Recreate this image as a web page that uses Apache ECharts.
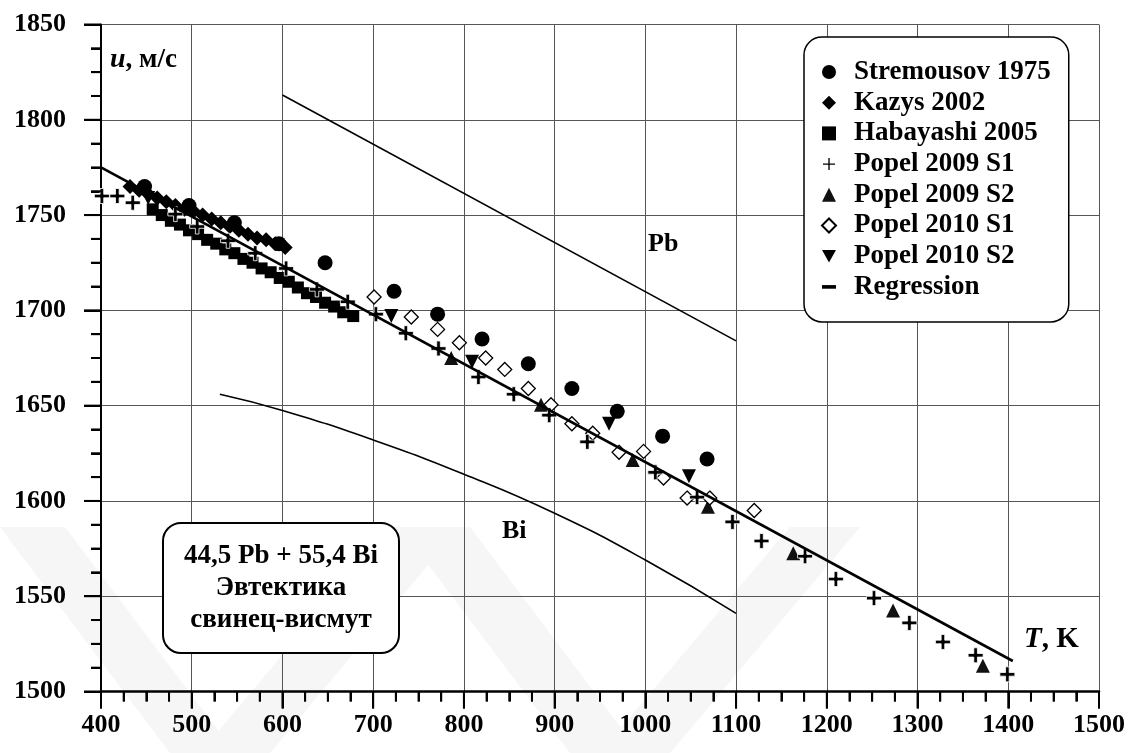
<!DOCTYPE html>
<html>
<head>
<meta charset="utf-8">
<script src="https://cdn.jsdelivr.net/npm/echarts@6/dist/echarts.min.js"></script>
<style>
  html, body { margin: 0; padding: 0; background: #fff; }
  #chart { width: 1128px; height: 753px; }
</style>
</head>
<body>
<div id="chart"></div>
<script>
// оси
var xTicks = [400, 500, 600, 700, 800, 900, 1000, 1100, 1200, 1300, 1400, 1500];
var yTicks = [1500, 1550, 1600, 1650, 1700, 1750, 1800, 1850];

// Stremousov 1975
var stremT = [448, 497, 547, 596, 647, 723, 771, 820, 871, 919, 969, 1019, 1068];
var stremU = [1765, 1755, 1746, 1735, 1725, 1710, 1698, 1685, 1672, 1659, 1647, 1634, 1622];

// Kazys 2002
var kazysT = [432, 442, 452, 462, 472, 482, 492, 502, 512, 522, 532, 542, 552, 562, 572, 582, 592, 603];
var kazysU = [1765, 1763, 1761, 1759, 1757, 1755, 1753, 1752, 1750, 1748, 1746, 1744, 1742, 1740, 1738, 1737, 1735, 1733];

// Habayashi 2005
var habT = [457, 467, 477, 487, 497, 507, 517, 527, 537, 547, 557, 567, 577, 587, 597, 607, 617, 627, 637, 647, 657, 667, 678];
var habU = [1753, 1750, 1747, 1745, 1742, 1740, 1737, 1735, 1732, 1730, 1727, 1725, 1722, 1720, 1717, 1715, 1712, 1709, 1707, 1704, 1702, 1699, 1697];

// Popel 2009 S1
var p09s1T = [401, 418, 435, 482, 506, 540, 570, 604, 638, 672, 703, 736, 772, 816, 855, 894, 936, 1011, 1057, 1096, 1128, 1176, 1210, 1252, 1291, 1328, 1364, 1399];
var p09s1U = [1760, 1760, 1756.5, 1750.5, 1744, 1736.5, 1730, 1722, 1711, 1704.5, 1698, 1688, 1680, 1665, 1656, 1645, 1631, 1615, 1602, 1589, 1579, 1571, 1559, 1549, 1536, 1526, 1519, 1509];

// Popel 2009 S2
var p09s2T = [786, 885, 986, 1069, 1163, 1273, 1372];
var p09s2U = [1675, 1650.5, 1621.5, 1597, 1572.5, 1542.5, 1513.5];

// Popel 2010 S1
var p10s1T = [701, 742, 771, 795, 824, 845, 871, 896, 919, 942, 971, 998, 1020, 1046, 1071, 1120];
var p10s1U = [1707, 1696.5, 1690, 1683, 1675, 1669, 1659, 1650.5, 1640.5, 1635.5, 1625.5, 1626, 1612, 1601.5, 1601.5, 1595];

// Popel 2010 S2
var p10s2T = [452, 720, 809, 960, 1048];
var p10s2U = [1759, 1697, 1673, 1640.5, 1613];

// регрессия и чистые металлы
var regT = [400, 1405];
var regU = [1775, 1516];
var pbT = [600, 1100];
var pbU = [1813, 1684];
var biT = [531, 600, 700, 800, 900, 1000, 1100];
var biU = [1656, 1647.5, 1632, 1614, 1593.5, 1569, 1541];

function pairs(xs, ys) {
    var out = [];
    for (var i = 0; i < xs.length; i++) {
        out.push([xs[i], ys[i]]);
    }
    return out;
}

// мелкие деления: 4 интервала между подписями
function subTicks(ticks) {
    var out = [];
    for (var i = 0; i < ticks.length; i++) {
        out.push(ticks[i]);
        if (i < ticks.length - 1) {
            var step = (ticks[i + 1] - ticks[i]) / 4;
            for (var k = 1; k < 4; k++) out.push(ticks[i] + k * step);
        }
    }
    return out;
}

var FONT = 'Liberation Serif';
var plusPath = 'path://M3.8,0h2.4v3.8h3.8v2.4h-3.8v3.8h-2.4v-3.8h-3.8v-2.4h3.8z';
var downTri = 'path://M0,0L10,0L5,9Z';
var dashIcon = 'path://M0,0h10v2.6h-10z';

var myChart = echarts.init(document.getElementById('chart'));

var option = {
    backgroundColor: '#fff',
    animation: false,
    grid: { left: 101, right: 24, top: 24.5, bottom: 61.5 },
    xAxis: {
        type: 'value',
        min: xTicks[0],
        max: xTicks[xTicks.length - 1],
        interval: 100,
        axisLine: { show: true, lineStyle: { color: '#000', width: 2.5 } },
        axisTick: { show: true, length: 17, lineStyle: { color: '#000', width: 2 } },
        minorTick: { show: true, splitNumber: 4, length: 10, lineStyle: { color: '#000', width: 2 } },
        axisLabel: {
            margin: 21, color: '#000', fontFamily: FONT, fontWeight: 'bold', fontSize: 26,
            formatter: function (v) { return String(v); }
        },
        splitLine: { show: true, lineStyle: { color: '#555', width: 1 } }
    },
    yAxis: {
        type: 'value',
        min: yTicks[0],
        max: yTicks[yTicks.length - 1],
        interval: 50,
        axisLine: { show: true, lineStyle: { color: '#000', width: 2 } },
        axisTick: { show: true, length: 17, lineStyle: { color: '#000', width: 2 } },
        minorTick: { show: true, splitNumber: 4, length: 10, lineStyle: { color: '#000', width: 2 } },
        axisLabel: {
            margin: 35, color: '#000', fontFamily: FONT, fontWeight: 'bold', fontSize: 26,
            formatter: function (v) { return String(v); }
        },
        splitLine: { show: true, lineStyle: { color: '#555', width: 1 } }
    },
    legend: {
        orient: 'vertical',
        left: 804,
        top: 37,
        padding: [21, 18, 21, 17],
        itemWidth: 14,
        itemHeight: 14,
        itemGap: 2.7,
        backgroundColor: '#fff',
        borderColor: '#000',
        borderWidth: 1.5,
        borderRadius: 18,
        textStyle: { color: '#000', fontFamily: FONT, fontWeight: 'bold', fontSize: 27, lineHeight: 28, padding: [0, 0, 0, 13] },
        data: [
            'Stremousov 1975', 'Kazys 2002', 'Habayashi 2005', 'Popel 2009 S1',
            'Popel 2009 S2', 'Popel 2010 S1', 'Popel 2010 S2',
            { name: 'Regression', icon: dashIcon }
        ]
    },
    graphic: [
        // водяной знак
        { type: 'polygon', z: -10, silent: true, shape: { points: [[0, 527], [65, 527], [235, 753], [170, 753]] }, style: { fill: '#f6f6f6' } },
        { type: 'polygon', z: -10, silent: true, shape: { points: [[200, 753], [270, 753], [460, 527], [390, 527]] }, style: { fill: '#f6f6f6' } },
        { type: 'polygon', z: -10, silent: true, shape: { points: [[400, 527], [470, 527], [640, 753], [570, 753]] }, style: { fill: '#f6f6f6' } },
        { type: 'polygon', z: -10, silent: true, shape: { points: [[600, 753], [670, 753], [860, 527], [790, 527]] }, style: { fill: '#f6f6f6' } },
        // подписи осей
        {
            type: 'text', left: 110, top: 46, z: 50,
            style: {
                text: '{i|u}{b|, м/с}',
                rich: {
                    i: { fontFamily: FONT, fontWeight: 'bold', fontStyle: 'italic', fontSize: 28, fill: '#000' },
                    b: { fontFamily: FONT, fontWeight: 'bold', fontSize: 27, fill: '#000' }
                }
            }
        },
        {
            type: 'text', left: 1024, top: 625, z: 50,
            style: {
                text: '{i|T}{b|, K}',
                rich: {
                    i: { fontFamily: FONT, fontWeight: 'bold', fontStyle: 'italic', fontSize: 29, fill: '#000' },
                    b: { fontFamily: FONT, fontWeight: 'bold', fontSize: 29, fill: '#000' }
                }
            }
        },
        { type: 'text', left: 648, top: 231, z: 50, style: { text: 'Pb', fontFamily: FONT, fontWeight: 'bold', fontSize: 26, fill: '#000' } },
        { type: 'text', left: 502, top: 518, z: 50, style: { text: 'Bi', fontFamily: FONT, fontWeight: 'bold', fontSize: 26, fill: '#000' } },
        // рамка с составом
        {
            type: 'rect', z: 50,
            shape: { x: 163, y: 523, width: 236, height: 130, r: 18 },
            style: { fill: '#fff', stroke: '#000', lineWidth: 2 }
        },
        {
            type: 'text', z: 51, x: 281, y: 588,
            style: {
                text: '44,5 Pb + 55,4 Bi\nЭвтектика\nсвинец-висмут',
                align: 'center', verticalAlign: 'middle',
                fontFamily: FONT, fontWeight: 'bold', fontSize: 27, lineHeight: 32, fill: '#000'
            }
        }
    ],
    series: [
        {
            name: 'Pb', type: 'line', data: pairs(pbT, pbU), showSymbol: false, symbol: 'none',
            lineStyle: { color: '#000', width: 1.6 }, z: 3
        },
        {
            name: 'Bi', type: 'line', data: pairs(biT, biU), smooth: true, showSymbol: false, symbol: 'none',
            lineStyle: { color: '#000', width: 1.6 }, z: 3
        },
        {
            name: 'Stremousov 1975', type: 'scatter', data: pairs(stremT, stremU),
            symbol: 'circle', symbolSize: 15, itemStyle: { color: '#000', opacity: 1 }, z: 4
        },
        {
            name: 'Kazys 2002', type: 'scatter', data: pairs(kazysT, kazysU),
            symbol: 'diamond', symbolSize: 15, itemStyle: { color: '#000', opacity: 1 }, z: 5
        },
        {
            name: 'Habayashi 2005', type: 'scatter', data: pairs(habT, habU),
            symbol: 'rect', symbolSize: 12, itemStyle: { color: '#000', opacity: 1 }, z: 5
        },
        {
            name: 'Popel 2009 S1', type: 'scatter', data: pairs(p09s1T, p09s1U),
            symbol: plusPath, symbolSize: 15,
            itemStyle: { color: '#000', borderColor: '#fff', borderWidth: 0.8, opacity: 1 }, z: 7
        },
        {
            name: 'Popel 2009 S2', type: 'scatter', data: pairs(p09s2T, p09s2U),
            symbol: 'triangle', symbolSize: 14, itemStyle: { color: '#111', opacity: 1 }, z: 6
        },
        {
            name: 'Popel 2010 S1', type: 'scatter', data: pairs(p10s1T, p10s1U),
            symbol: 'diamond', symbolSize: 14,
            itemStyle: { color: '#fff', borderColor: '#000', borderWidth: 1.3, opacity: 1 }, z: 6
        },
        {
            name: 'Popel 2010 S2', type: 'scatter', data: pairs(p10s2T, p10s2U),
            symbol: downTri, symbolSize: 14, itemStyle: { color: '#000', opacity: 1 }, z: 6
        },
        {
            name: 'Regression', type: 'line', data: pairs(regT, regU), showSymbol: false, symbol: 'none',
            lineStyle: { color: '#000', width: 2.6 }, itemStyle: { color: '#000' }, z: 8
        }
    ]
};

myChart.setOption(option);

// деления поверх всего: позиции берём из шкал самого графика
subTicks(xTicks).forEach(function (t) {
    var p = myChart.convertToPixel({ gridIndex: 0 }, [t, yTicks[0]]);
    var len = xTicks.indexOf(t) >= 0 ? 17 : 10;
    option.graphic.push({
        type: 'line', z: 100, silent: true,
        shape: { x1: p[0], y1: p[1], x2: p[0], y2: p[1] + len },
        style: { stroke: '#000', lineWidth: 2 }
    });
});
subTicks(yTicks).forEach(function (u) {
    var p = myChart.convertToPixel({ gridIndex: 0 }, [xTicks[0], u]);
    var len = yTicks.indexOf(u) >= 0 ? 17 : 10;
    option.graphic.push({
        type: 'line', z: 100, silent: true,
        shape: { x1: p[0] - len, y1: p[1], x2: p[0], y2: p[1] },
        style: { stroke: '#000', lineWidth: 2 }
    });
});
myChart.setOption(option, true);
</script>
</body>
</html>
